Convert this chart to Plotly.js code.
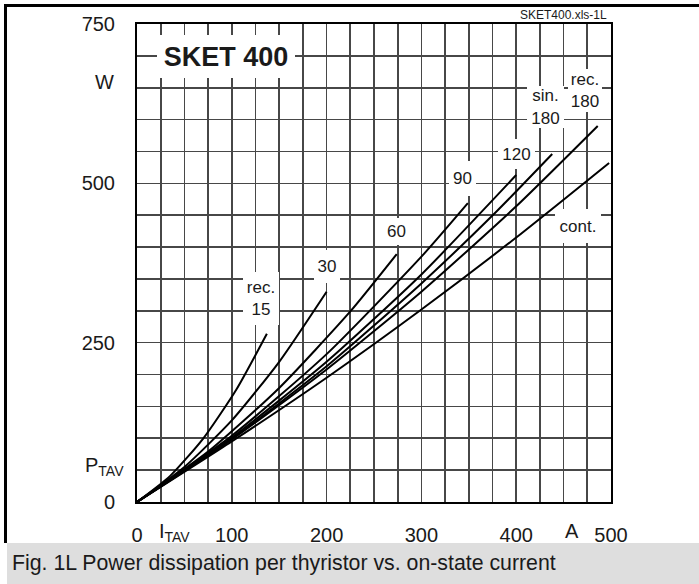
<!DOCTYPE html>
<html>
<head>
<meta charset="utf-8">
<script src="https://cdn.plot.ly/plotly-3.0.1.min.js"></script>
<style>
html,body{margin:0;padding:0;background:#fff;}
#chart{width:699px;height:584px;}
</style>
</head>
<body>
<div id="chart"></div>
<script>
// ---- data (I_TAV in A, P_TAV in W) ----
const contI   = [0, 100, 200, 300, 400, 498];
const contP   = [0, 95, 195, 302, 415, 532];
const rec180I = [0, 100, 200, 300, 400, 486];
const rec180P = [0, 98, 208, 330, 464, 590];
const sin180I = [0, 100, 200, 300, 380, 438];
const sin180P = [0, 99, 213, 343, 457, 546];
const rec120I = [0, 100, 200, 300, 400];
const rec120P = [0, 101, 220, 357, 513];
const rec90I  = [0, 100, 200, 300, 349];
const rec90P  = [0, 104, 232, 385, 469];
const rec60I  = [0, 75, 150, 225, 274];
const rec60P  = [0, 79, 179, 299, 389];
const rec30I  = [0, 50, 100, 150, 200];
const rec30P  = [0, 55, 128, 220, 330];
const rec15I  = [0, 35, 70, 105, 137];
const rec15P  = [0, 41, 100, 177, 264];

const xTicks = [0, 100, 200, 300, 400, 500];
const xTickText = ['0', '100', '200', '300', '400', '500'];
const yTicks = [0, 250, 500, 750];
const yTickText = ['0', '250', '500', '750'];

// ---- layout geometry ----
const W = 699, H = 584;
const L = 137, R = 611, T = 24, B = 502;
const px = x => (x - L) / (R - L);
const py = y => (B - y) / (B - T);

const FONT = 'Liberation Sans, Arial, Helvetica, sans-serif';
const TXT = '#1a1a1a';
const GRID = '#474747';
const GW = 1.6;

const series = [
  [contI, contP], [rec180I, rec180P], [sin180I, sin180P], [rec120I, rec120P],
  [rec90I, rec90P], [rec60I, rec60P], [rec30I, rec30P], [rec15I, rec15P]
];
const traces = series.map(s => ({
  x: s[0], y: s[1], type: 'scatter', mode: 'lines',
  line: {color: '#000', width: 2, shape: 'spline', smoothing: 0.6},
  hoverinfo: 'skip', showlegend: false
}));

function box(text, x, y, w, h, size) {
  return {text: text, x: x, y: y, xref: 'x', yref: 'y', showarrow: false,
    bgcolor: '#ffffff', width: w, height: h, borderpad: 0, borderwidth: 0,
    font: {family: FONT, size: size || 17, color: TXT}, align: 'center',
    xanchor: 'center', yanchor: 'middle'};
}
function lab(text, x, y, size, xa) {
  return {text: text, x: px(x), y: py(y), xref: 'paper', yref: 'paper',
    showarrow: false, font: {family: FONT, size: size, color: TXT},
    xanchor: xa || 'center', yanchor: 'middle'};
}

const annotations = [
  box('<b>SKET 400</b>', 94, 699, 138, 43, 27),
  box('rec.<br>15', 131, 320, 36, 53),
  box('30', 200, 369, 26, 33),
  box('60', 274, 425, 25, 27),
  box('90', 343, 508, 27, 35),
  box('120', 400, 546, 37, 30),
  box('sin.<br>180', 431, 620, 37, 42),
  box('rec.<br>180', 473, 645, 34, 43),
  box('cont.', 465, 433, 46, 34),
  lab('W', 104, 82, 20),
  lab('P<sub>TAV</sub>', 104, 466, 20),
  lab('I<sub>TAV</sub>', 174, 532, 20),
  lab('A', 572, 531, 20),
  lab('SKET400.xls-1L', 609, 15, 12, 'right'),
  lab('Fig. 1L Power dissipation per thyristor vs. on-state current', 10, 563, 21.3, 'left')
];

const shapes = [
  {type: 'rect', xref: 'paper', yref: 'paper', x0: px(7), x1: px(699), y0: py(543), y1: py(584),
   fillcolor: '#dedede', line: {width: 0}, layer: 'below'},
  {type: 'rect', xref: 'paper', yref: 'paper', x0: px(4), x1: px(7), y0: py(4), y1: py(543),
   fillcolor: '#000', line: {width: 0}},
  {type: 'rect', xref: 'paper', yref: 'paper', x0: px(4), x1: px(699), y0: py(4), y1: py(7),
   fillcolor: '#000', line: {width: 0}}
];

const layout = {
  width: W, height: H,
  margin: {l: L, r: W - R, t: T, b: H - B, pad: 0},
  paper_bgcolor: '#ffffff', plot_bgcolor: '#ffffff',
  font: {family: FONT, size: 20, color: TXT},
  showlegend: false,
  xaxis: {range: [0, 500], tickmode: 'array', tickvals: xTicks, ticktext: xTickText,
    showgrid: true, gridcolor: GRID, gridwidth: GW, zeroline: false,
    showline: true, mirror: true, linecolor: '#000', linewidth: 2,
    ticks: '', ticklabelstandoff: 14, tickfont: {family: FONT, size: 20, color: TXT},
    minor: {tickmode: 'linear', tick0: 0, dtick: 25, showgrid: true, gridcolor: GRID, gridwidth: GW},
    fixedrange: true},
  yaxis: {range: [0, 750], tickmode: 'array', tickvals: yTicks, ticktext: yTickText,
    showgrid: true, gridcolor: GRID, gridwidth: GW, zeroline: false,
    showline: true, mirror: true, linecolor: '#000', linewidth: 2,
    ticks: '', ticklabelstandoff: 16, tickfont: {family: FONT, size: 20, color: TXT},
    minor: {tickmode: 'linear', tick0: 0, dtick: 50, showgrid: true, gridcolor: GRID, gridwidth: GW},
    fixedrange: true},
  annotations: annotations,
  shapes: shapes
};

Plotly.newPlot('chart', traces, layout, {displayModeBar: false, staticPlot: true});
</script>
</body>
</html>
